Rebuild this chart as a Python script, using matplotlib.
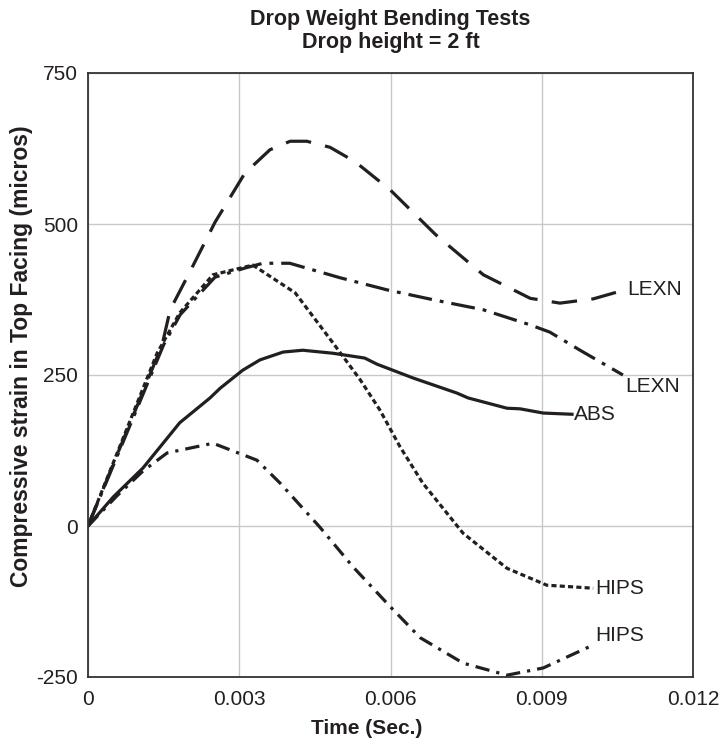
import matplotlib
matplotlib.use('Agg')
import matplotlib.pyplot as plt

plt.rcParams['font.family'] = ['Liberation Sans', 'DejaVu Sans']
plt.rcParams['axes.unicode_minus'] = False

# LEXN (upper, long dashes)
lexn1_t = [0, 0.00147, 0.00163, 0.00204, 0.00252, 0.00311, 0.00361, 0.00401, 0.00434,
           0.0048, 0.0053, 0.006, 0.0069, 0.00784, 0.00877, 0.00936, 0.01002, 0.01065]
lexn1_v = [0, 300, 358, 424, 503, 584, 623, 637, 637,
           627, 603, 556, 482, 416, 377, 369, 376, 391]

# LEXN (lower, dash-dot)
lexn2_t = [0, 0.0015, 0.00183, 0.00252, 0.00311, 0.00347, 0.004, 0.00446, 0.005,
           0.00593, 0.00688, 0.00784, 0.00877, 0.00916, 0.00976, 0.01061]
lexn2_v = [0, 300, 350, 412, 427, 435, 435, 424, 411,
           391, 374, 358, 333, 321, 291, 250]

# ABS (solid)
abs_t = [0, 0.0005, 0.00109, 0.00182, 0.00242, 0.00262, 0.00307, 0.00341, 0.00387, 0.00426,
         0.00486, 0.00549, 0.00573, 0.00645, 0.00732, 0.00754, 0.00831, 0.00857, 0.00903, 0.0096]
abs_v = [0, 48, 96, 171, 212, 228, 258, 275, 288, 291,
         286, 278, 268, 245, 220, 212, 195, 194, 187, 185]

# HIPS (upper, short dashes)
hips1_t = [0, 0.00137, 0.00182, 0.00248, 0.00327, 0.00411, 0.00486, 0.0054, 0.00579,
           0.00619, 0.00664, 0.00744, 0.00831, 0.0091, 0.01002]
hips1_v = [0, 286, 353, 416, 432, 386, 303, 242, 192,
           131, 71, -12, -70, -98, -103]

# HIPS (lower, dash-dot)
hips2_t = [0, 0.000575, 0.00109, 0.00157, 0.00248, 0.00335, 0.00381, 0.0046, 0.00526,
           0.006, 0.00659, 0.00744, 0.00831, 0.00903, 0.01002]
hips2_v = [0, 50, 91, 121, 137, 109, 71, -2, -68,
           -134, -185, -227, -247, -235, -197]

x_ticks = [0, 0.003, 0.006, 0.009, 0.012]
x_labels = ['0', '0.003', '0.006', '0.009', '0.012']
y_ticks = [-250, 0, 250, 500, 750]

ink = '#231f20'
lw = 2.3
fs = 15

fig = plt.figure(figsize=(7.24, 7.44), dpi=100)
ax = fig.add_axes([88/724, 67/744, 605/724, 604/744])

ax.plot(lexn1_t, lexn1_v, color=ink, lw=lw, dashes=(8, 4.5))
ax.plot(lexn2_t, lexn2_v, color=ink, lw=lw, dashes=(7.5, 2.5, 1.2, 2.5))
ax.plot(abs_t, abs_v, color=ink, lw=lw)
ax.plot(hips1_t, hips1_v, color=ink, lw=lw, dashes=(1.6, 1))
ax.plot(hips2_t, hips2_v, color=ink, lw=lw, dashes=(4.5, 2.2, 1, 2.2))

# end labels (offsets in points from the last point of each curve)
def end_label(t, v, text, dy=0):
    ax.annotate(text, xy=(t[-1], v[-1]), xytext=(1.5, dy), textcoords='offset points',
                fontsize=fs, color=ink, ha='left', va='center')

end_label(lexn1_t, lexn1_v, 'LEXN')
end_label(lexn2_t, lexn2_v, 'LEXN', dy=-8)
end_label(abs_t, abs_v, 'ABS')
end_label(hips1_t, hips1_v, 'HIPS')
end_label(hips2_t, hips2_v, 'HIPS', dy=7)

ax.set_xlim(0, 0.012)
ax.set_ylim(-250, 750)
ax.set_xticks(x_ticks)
ax.set_xticklabels(x_labels)
ax.set_yticks(y_ticks)
ax.tick_params(length=0, labelsize=fs, colors=ink)
ax.tick_params(axis='x', pad=9.5)
ax.tick_params(axis='y', pad=7)
ax.grid(True, color='#c8c8c8', lw=1)
ax.set_axisbelow(True)
for s in ax.spines.values():
    s.set_color('#333333')
    s.set_linewidth(1.3)

fig.text(367/724, 1 - 728/744, 'Time (Sec.)', fontsize=fs, fontweight='bold',
         color=ink, ha='center', va='center')
fig.text(22/724, 1 - 356/744, 'Compressive strain in Top Facing (micros)', fontsize=16.5,
         fontweight='bold', color=ink, ha='center', va='center', rotation=90)
fig.text(390.5/724, 1 - 31/744, 'Drop Weight Bending Tests\nDrop height = 2 ft',
         fontsize=15.5, fontweight='bold', color=ink, ha='center', va='center',
         linespacing=1.15)

fig.savefig('out.png', dpi=100)
